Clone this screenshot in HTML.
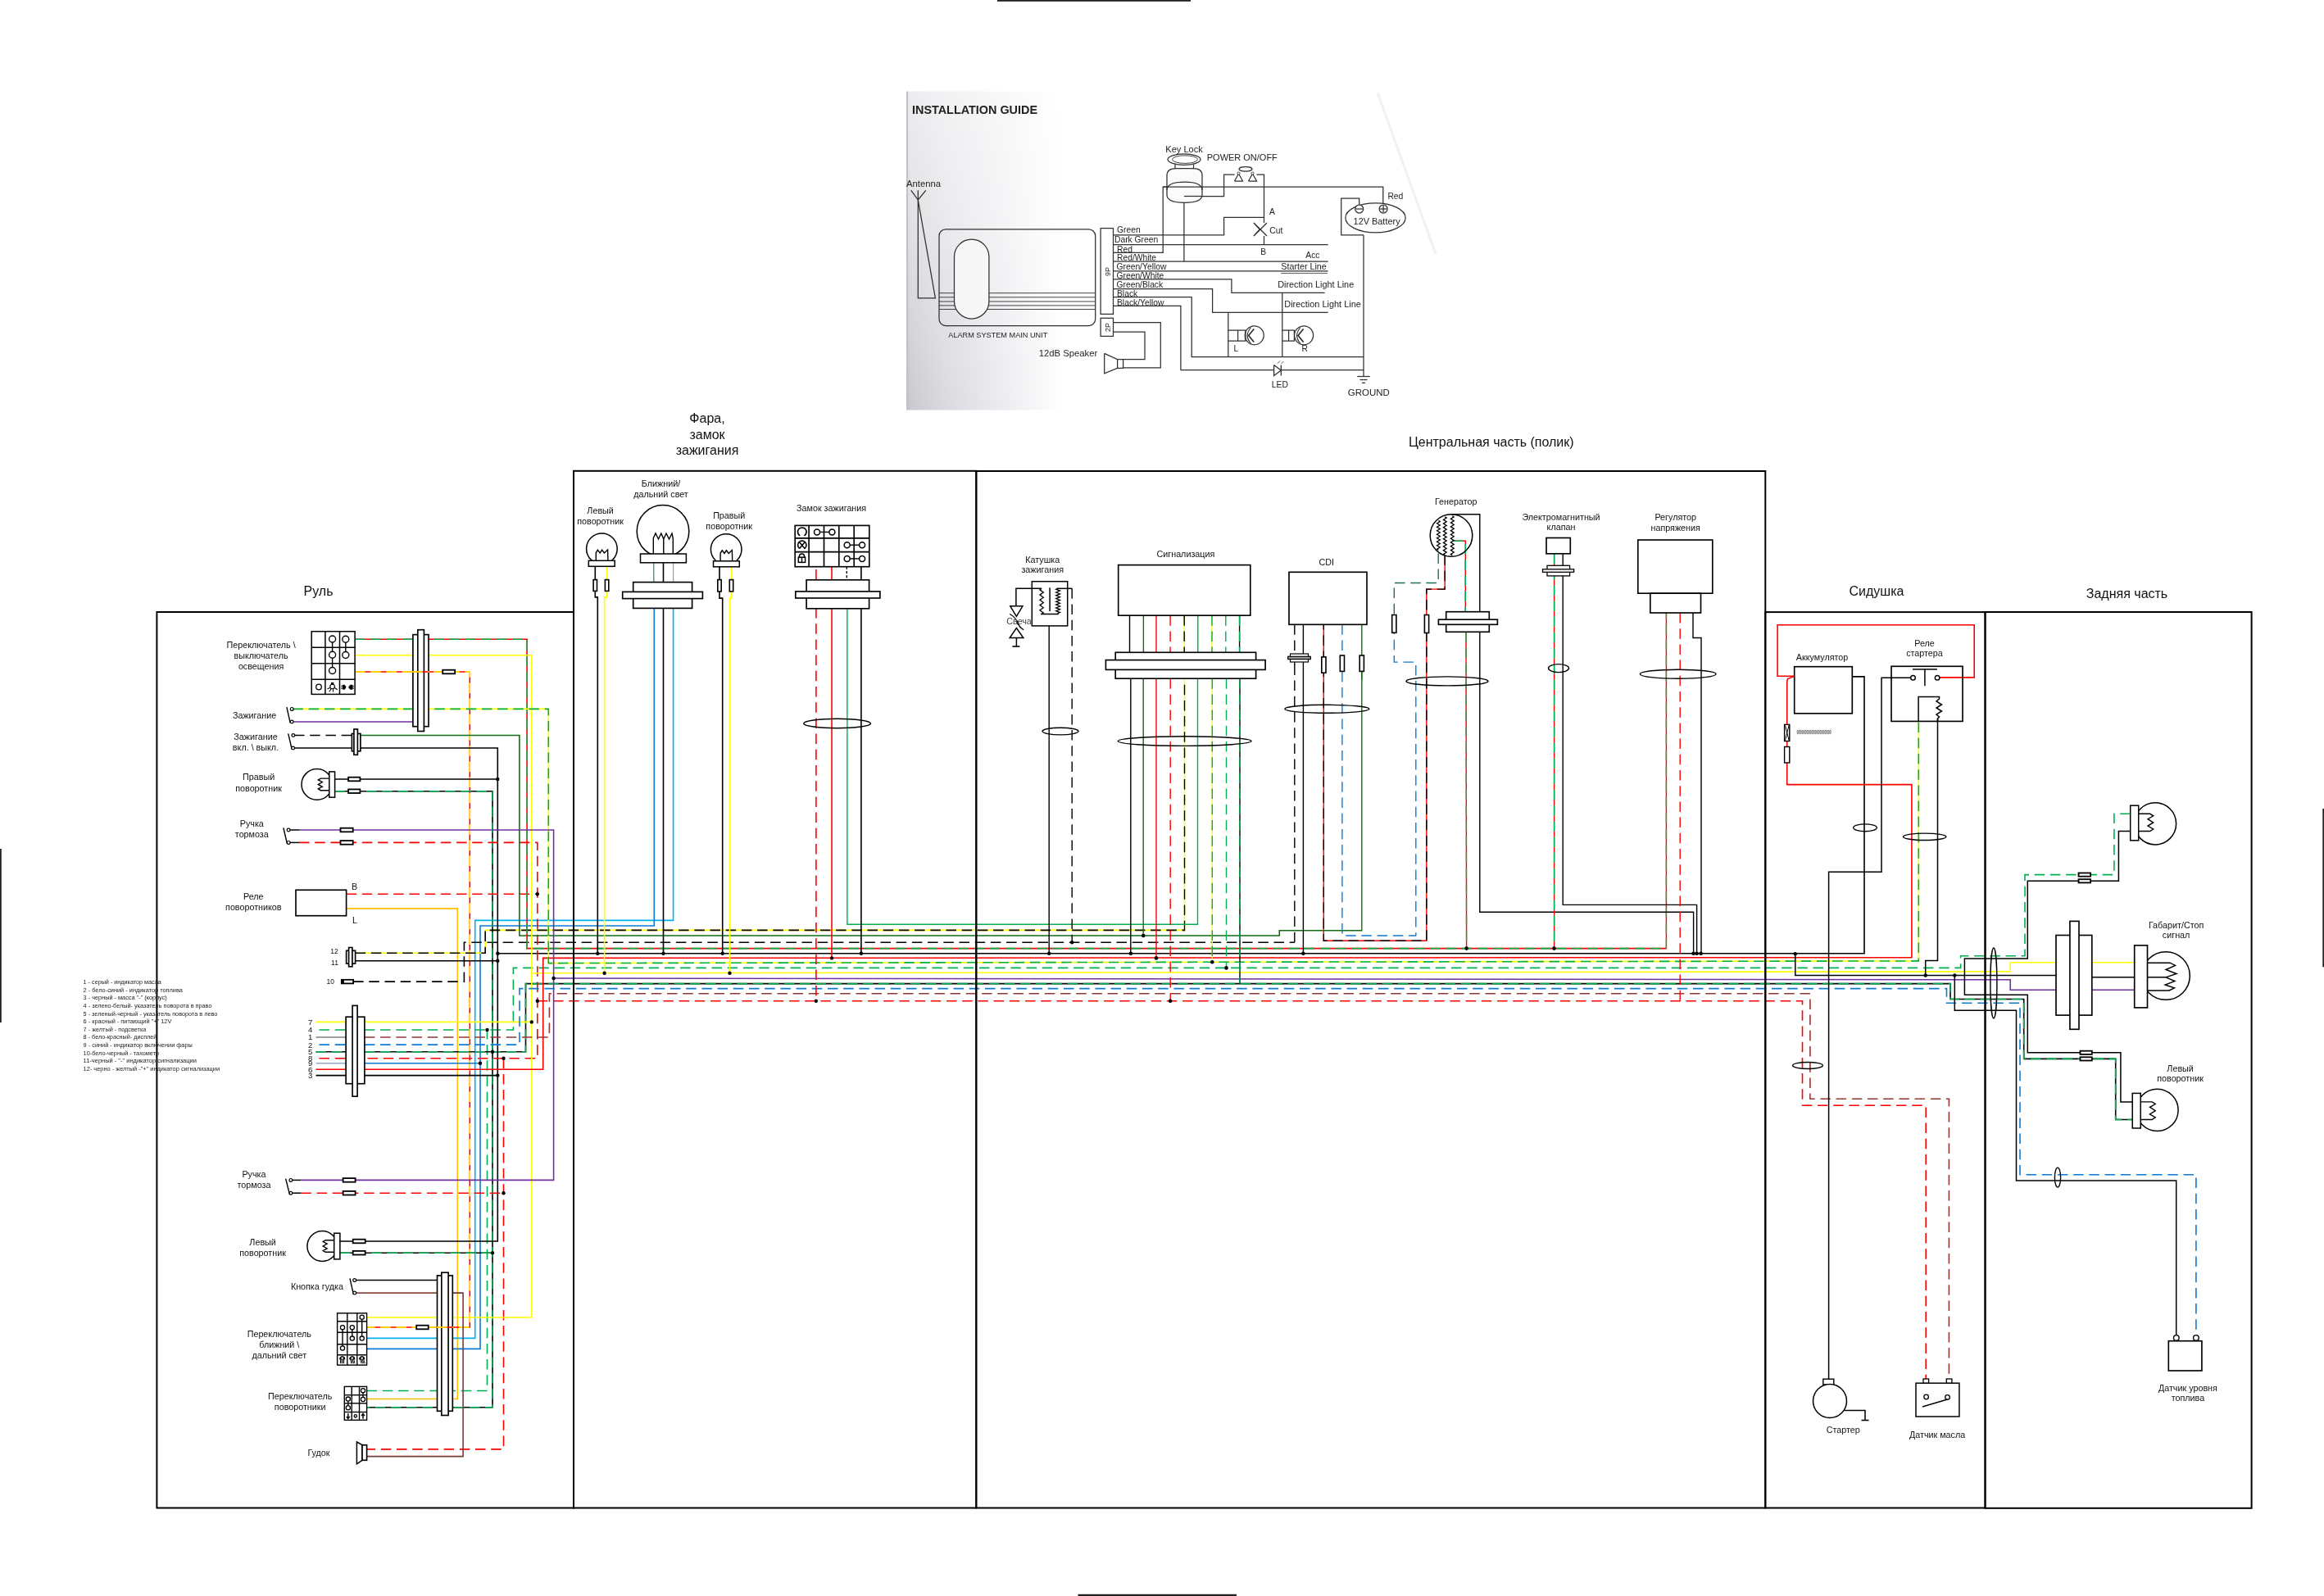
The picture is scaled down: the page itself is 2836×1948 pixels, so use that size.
<!DOCTYPE html>
<html><head><meta charset="utf-8"><title>Wiring</title>
<style>html,body{margin:0;padding:0;background:#fff;}svg{display:block;will-change:transform;}body{width:2836px;height:1948px;overflow:hidden;font-family:"Liberation Sans",sans-serif;}</style></head>
<body>
<svg width="2836" height="1948" viewBox="0 0 2836 1948" font-family="'Liberation Sans', sans-serif">
<defs>
<linearGradient id="pg" x1="0" y1="0" x2="1" y2="0">
<stop offset="0" stop-color="#bfbfc6"/><stop offset="0.03" stop-color="#cacad0"/><stop offset="0.25" stop-color="#d9d9df"/><stop offset="0.5" stop-color="#e6e6eb"/><stop offset="0.78" stop-color="#f4f4f7"/><stop offset="1" stop-color="#ffffff"/>
</linearGradient>
<linearGradient id="pg2" x1="0" y1="0" x2="0" y2="1">
<stop offset="0" stop-color="#ffffff" stop-opacity="0.66"/><stop offset="0.4" stop-color="#ffffff" stop-opacity="0.46"/><stop offset="0.75" stop-color="#ffffff" stop-opacity="0.2"/><stop offset="1" stop-color="#ffffff" stop-opacity="0"/>
</linearGradient>
<pattern id="hatch" width="2" height="2" patternUnits="userSpaceOnUse"><rect width="1" height="1" fill="#555"/><rect x="1" y="1" width="1" height="1" fill="#555"/></pattern>
</defs>
<rect x="1217" y="0" width="236" height="1.8" fill="#222"/>
<rect x="1315.5" y="1945.8" width="193.5" height="2.2" fill="#222"/>
<rect x="0" y="1036" width="1.8" height="212" fill="#222"/>
<rect x="2834.3" y="987" width="1.7" height="193.3" fill="#222"/>
<rect x="1106" y="111.5" width="190" height="389" fill="url(#pg)"/>
<rect x="1108" y="111" width="189" height="390" fill="url(#pg2)"/>
<polyline points="1681,113 1752,310" fill="none" stroke="#f1f1f1" stroke-width="3"/>
<text x="1113.0" y="138.6" font-size="15.00" text-anchor="start" font-weight="bold" fill="#222" textLength="153" lengthAdjust="spacingAndGlyphs">INSTALLATION GUIDE</text>
<text x="1106.0" y="227.5" font-size="10.50" text-anchor="start" font-weight="normal" fill="#222" textLength="42" lengthAdjust="spacingAndGlyphs">Antenna</text>
<polyline points="1111.8,232.3 1120.3,244.0 1129.8,232.3" fill="none" stroke="#303030" stroke-width="1.25"/>
<polyline points="1120.3,232.3 1120.3,363.9 1141.4,363.9 1120.3,244.0" fill="none" stroke="#303030" stroke-width="1.25"/>
<rect x="1146.0" y="279.9" width="190.7" height="117.6" fill="none" stroke="#303030" stroke-width="1.25" rx="8.0"/>
<polyline points="1146.0,357.7 1336.7,357.7" fill="none" stroke="#303030" stroke-width="0.90"/>
<polyline points="1146.0,362.8 1336.7,362.8" fill="none" stroke="#303030" stroke-width="0.90"/>
<polyline points="1146.0,368.0 1336.7,368.0" fill="none" stroke="#303030" stroke-width="0.90"/>
<polyline points="1146.0,372.9 1336.7,372.9" fill="none" stroke="#303030" stroke-width="0.90"/>
<polyline points="1146.0,377.5 1336.7,377.5" fill="none" stroke="#303030" stroke-width="0.90"/>
<rect x="1164.5" y="292.2" width="42.4" height="96.8" fill="#f7f7f7" stroke="#303030" stroke-width="1.25" rx="21.2"/>
<text x="1157.3" y="411.6" font-size="9.00" text-anchor="start" font-weight="normal" fill="#222" textLength="121" lengthAdjust="spacingAndGlyphs">ALARM SYSTEM MAIN UNIT</text>
<rect x="1343.1" y="278.6" width="15.4" height="104.8" fill="none" stroke="#303030" stroke-width="1.25"/>
<rect x="1343.1" y="388.3" width="15.4" height="22.1" fill="none" stroke="#303030" stroke-width="1.25"/>
<text transform="translate(1354.5,337) rotate(-90)" font-size="9" fill="#222">9P</text>
<text transform="translate(1354.5,405) rotate(-90)" font-size="9" fill="#222">2P</text>
<text x="1363.0" y="284.3" font-size="10.30" text-anchor="start" font-weight="normal" fill="#222" >Green</text>
<text x="1360.0" y="296.4" font-size="10.30" text-anchor="start" font-weight="normal" fill="#222" >Dark Green</text>
<text x="1363.0" y="308.0" font-size="10.30" text-anchor="start" font-weight="normal" fill="#222" >Red</text>
<text x="1363.0" y="317.5" font-size="10.30" text-anchor="start" font-weight="normal" fill="#222" >Red/White</text>
<text x="1362.5" y="329.0" font-size="10.30" text-anchor="start" font-weight="normal" fill="#222" >Green/Yellow</text>
<text x="1362.5" y="339.6" font-size="10.30" text-anchor="start" font-weight="normal" fill="#222" >Green/White</text>
<text x="1362.5" y="350.9" font-size="10.30" text-anchor="start" font-weight="normal" fill="#222" >Green/Black</text>
<text x="1363.0" y="361.9" font-size="10.30" text-anchor="start" font-weight="normal" fill="#222" >Black</text>
<text x="1363.0" y="372.7" font-size="10.30" text-anchor="start" font-weight="normal" fill="#222" >Black/Yellow</text>
<text x="1267.8" y="435.2" font-size="10.30" text-anchor="start" font-weight="normal" fill="#222" textLength="71.5" lengthAdjust="spacingAndGlyphs">12dB Speaker</text>
<polyline points="1347.7,431.4 1363.6,438.6 1363.6,449.4 1347.7,455.9 1347.7,431.4" fill="none" stroke="#303030" stroke-width="1.25"/>
<polyline points="1363.6,438.6 1370.6,438.6 1370.6,449.4 1363.6,449.4" fill="none" stroke="#303030" stroke-width="1.25"/>
<polyline points="1358.5,393.7 1416.3,393.7 1416.3,448.9 1370.6,448.9" fill="none" stroke="#303030" stroke-width="1.25"/>
<polyline points="1358.5,405.0 1397.0,405.0 1397.0,438.6 1370.6,438.6" fill="none" stroke="#303030" stroke-width="1.25"/>
<polyline points="1358.5,286.9 1493.6,286.9 1493.6,265.3 1542.5,265.3" fill="none" stroke="#303030" stroke-width="1.25"/>
<polyline points="1358.5,298.7 1620.6,298.7" fill="none" stroke="#303030" stroke-width="1.25"/>
<polyline points="1358.5,308.3 1419.2,308.3 1419.2,228.1 1687.8,228.1 1687.8,250.0" fill="none" stroke="#303030" stroke-width="1.25"/>
<polyline points="1358.5,319.2 1620.6,319.2" fill="none" stroke="#303030" stroke-width="1.25"/>
<polyline points="1444.9,319.2 1444.9,239.5 1493.6,239.5 1493.6,213.2 1506.5,213.2" fill="none" stroke="#303030" stroke-width="1.25"/>
<polyline points="1533.5,213.2 1542.5,213.2 1542.5,272.0" fill="none" stroke="#303030" stroke-width="1.25"/>
<polyline points="1542.5,288.0 1542.5,298.7" fill="none" stroke="#303030" stroke-width="1.25"/>
<polyline points="1358.5,330.9 1620.6,330.9" fill="none" stroke="#303030" stroke-width="1.25"/>
<polyline points="1563.0,333.6 1620.0,333.6" fill="none" stroke="#303030" stroke-width="0.80"/>
<polyline points="1358.5,340.8 1502.9,340.8 1502.9,357.3 1616.6,357.3" fill="none" stroke="#303030" stroke-width="1.25"/>
<polyline points="1358.5,352.6 1479.6,352.6 1479.6,381.4 1620.6,381.4" fill="none" stroke="#303030" stroke-width="1.25"/>
<polyline points="1358.5,362.5 1454.2,362.5 1454.2,435.6 1664.0,435.6" fill="none" stroke="#303030" stroke-width="1.25"/>
<polyline points="1358.5,373.4 1440.9,373.4 1440.9,451.7 1554.6,451.7" fill="none" stroke="#303030" stroke-width="1.25"/>
<polyline points="1563.3,451.7 1664.0,451.7" fill="none" stroke="#303030" stroke-width="1.25"/>
<ellipse cx="1445.0" cy="194.6" rx="20.0" ry="6.8" fill="none" stroke="#303030" stroke-width="1.25"/>
<ellipse cx="1446.0" cy="194.6" rx="15.5" ry="4.8" fill="none" stroke="#303030" stroke-width="0.90"/>
<polyline points="1434.0,200.5 1434.0,206.0" fill="none" stroke="#303030" stroke-width="1.25"/>
<polyline points="1456.5,200.5 1456.5,206.0" fill="none" stroke="#303030" stroke-width="1.25"/>
<path d="M1424 214 Q1424 205.5 1435 205.5 L1456 205.5 Q1467 205.5 1467 214 L1467 238 Q1467 247.3 1445.5 247.3 Q1424 247.3 1424 238 Z" fill="#fbfbfb" stroke="#303030" stroke-width="1.25" />
<path d="M1424 232 Q1424 222 1445.5 222 Q1467 222 1467 232" fill="none" stroke="#303030" stroke-width="1.25" />
<polyline points="1419.2,228.1 1467.0,228.1" fill="none" stroke="#303030" stroke-width="1.25"/>
<polyline points="1444.9,239.5 1467.0,239.5" fill="none" stroke="#303030" stroke-width="1.25"/>
<text x="1422.3" y="185.6" font-size="10.30" text-anchor="start" font-weight="normal" fill="#222" textLength="45.5" lengthAdjust="spacingAndGlyphs">Key Lock</text>
<text x="1472.8" y="195.8" font-size="10.30" text-anchor="start" font-weight="normal" fill="#222" textLength="86" lengthAdjust="spacingAndGlyphs">POWER ON/OFF</text>
<ellipse cx="1520.0" cy="206.3" rx="8.0" ry="2.8" fill="none" stroke="#303030" stroke-width="1.25"/>
<polyline points="1506.5,221.0 1511.5,212.0 1516.5,221.0 1506.5,221.0" fill="none" stroke="#303030" stroke-width="1.25"/>
<polyline points="1523.5,221.0 1528.5,212.0 1533.5,221.0 1523.5,221.0" fill="none" stroke="#303030" stroke-width="1.25"/>
<circle cx="1511.5" cy="211.5" r="1.60" fill="#fff" stroke="#303030" stroke-width="0.90"/>
<circle cx="1528.5" cy="211.5" r="1.60" fill="#fff" stroke="#303030" stroke-width="0.90"/>
<polyline points="1530.0,272.0 1546.0,288.0" fill="none" stroke="#303030" stroke-width="1.30"/>
<polyline points="1530.0,288.0 1546.0,272.0" fill="none" stroke="#303030" stroke-width="1.30"/>
<polyline points="1530.0,272.0 1537.0,280.0 1530.0,288.0" fill="none" stroke="#303030" stroke-width="1.10"/>
<text x="1552.4" y="262.0" font-size="10.30" text-anchor="middle" font-weight="normal" fill="#222" >A</text>
<text x="1549.3" y="284.5" font-size="10.30" text-anchor="start" font-weight="normal" fill="#222" >Cut</text>
<text x="1541.6" y="310.5" font-size="10.30" text-anchor="middle" font-weight="normal" fill="#222" >B</text>
<text x="1593.3" y="314.6" font-size="10.30" text-anchor="start" font-weight="normal" fill="#222" >Acc</text>
<text x="1563.3" y="329.3" font-size="10.30" text-anchor="start" font-weight="normal" fill="#222" textLength="55.5" lengthAdjust="spacingAndGlyphs">Starter Line</text>
<text x="1559.2" y="350.8" font-size="10.30" text-anchor="start" font-weight="normal" fill="#222" textLength="93" lengthAdjust="spacingAndGlyphs">Direction Light Line</text>
<text x="1567.3" y="374.8" font-size="10.30" text-anchor="start" font-weight="normal" fill="#222" textLength="93.5" lengthAdjust="spacingAndGlyphs">Direction Light Line</text>
<polyline points="1658.7,250.0 1658.7,242.0 1636.7,242.0 1636.7,286.9 1664.0,286.9" fill="none" stroke="#303030" stroke-width="1.25"/>
<ellipse cx="1678.5" cy="265.9" rx="36.6" ry="18.0" fill="#fdfdfd" stroke="#303030" stroke-width="1.25"/>
<circle cx="1658.7" cy="255.0" r="5.00" fill="#fff" stroke="#303030" stroke-width="1.25"/>
<circle cx="1688.1" cy="255.0" r="5.00" fill="#fff" stroke="#303030" stroke-width="1.25"/>
<polyline points="1654.5,255.0 1663.0,255.0" fill="none" stroke="#303030" stroke-width="1.25"/>
<polyline points="1684.0,255.0 1692.3,255.0" fill="none" stroke="#303030" stroke-width="1.25"/>
<polyline points="1688.1,251.0 1688.1,259.0" fill="none" stroke="#303030" stroke-width="1.25"/>
<text x="1651.6" y="274.3" font-size="10.30" text-anchor="start" font-weight="normal" fill="#222" textLength="57" lengthAdjust="spacingAndGlyphs">12V Battery</text>
<text x="1693.4" y="242.6" font-size="10.30" text-anchor="start" font-weight="normal" fill="#222" >Red</text>
<polyline points="1664.0,286.9 1664.0,459.5" fill="none" stroke="#303030" stroke-width="1.25"/>
<polyline points="1656.3,459.5 1671.7,459.5" fill="none" stroke="#303030" stroke-width="1.25"/>
<polyline points="1659.5,463.5 1668.5,463.5" fill="none" stroke="#303030" stroke-width="1.25"/>
<polyline points="1662.0,467.3 1666.0,467.3" fill="none" stroke="#303030" stroke-width="1.25"/>
<text x="1644.8" y="483.4" font-size="10.30" text-anchor="start" font-weight="normal" fill="#222" textLength="51" lengthAdjust="spacingAndGlyphs">GROUND</text>
<polyline points="1498.8,381.4 1498.8,435.6" fill="none" stroke="#303030" stroke-width="1.25"/>
<polyline points="1498.8,403.1 1519.9,403.1 1519.9,416.1 1498.8,416.1" fill="none" stroke="#303030" stroke-width="1.25"/>
<polyline points="1510.6,403.1 1510.6,416.1" fill="none" stroke="#303030" stroke-width="1.25"/>
<circle cx="1530.7" cy="409.3" r="11.50" fill="none" stroke="#303030" stroke-width="1.25"/>
<polyline points="1530.2,401.5 1523.7,409.5 1530.2,417.5" fill="none" stroke="#303030" stroke-width="1.70"/>
<path d="M1526.7 399.5 Q1517.7 409.5 1526.7 419.5" fill="none" stroke="#303030" stroke-width="1.10" />
<text x="1508.4" y="429.0" font-size="10.30" text-anchor="middle" font-weight="normal" fill="#222" >L</text>
<polyline points="1564.8,357.3 1564.8,435.6" fill="none" stroke="#303030" stroke-width="1.25"/>
<polyline points="1564.8,403.1 1579.4,403.1 1579.4,416.1 1564.8,416.1" fill="none" stroke="#303030" stroke-width="1.25"/>
<polyline points="1572.6,403.1 1572.6,416.1" fill="none" stroke="#303030" stroke-width="1.25"/>
<circle cx="1591.1" cy="409.3" r="11.50" fill="none" stroke="#303030" stroke-width="1.25"/>
<polyline points="1590.6,401.5 1584.1,409.5 1590.6,417.5" fill="none" stroke="#303030" stroke-width="1.70"/>
<path d="M1587.1 399.5 Q1578.1 409.5 1587.1 419.5" fill="none" stroke="#303030" stroke-width="1.10" />
<text x="1592.1" y="429.0" font-size="10.30" text-anchor="middle" font-weight="normal" fill="#222" >R</text>
<polyline points="1554.6,445.5 1554.6,458.6 1563.3,452.0 1554.6,445.5" fill="none" stroke="#303030" stroke-width="1.25"/>
<polyline points="1563.3,445.5 1563.3,458.6" fill="none" stroke="#303030" stroke-width="1.25"/>
<polyline points="1559.0,443.5 1562.0,440.5" fill="none" stroke="#303030" stroke-width="0.80"/>
<polyline points="1563.5,444.0 1566.5,441.0" fill="none" stroke="#303030" stroke-width="0.80"/>
<text x="1551.8" y="472.6" font-size="10.30" text-anchor="start" font-weight="normal" fill="#222" >LED</text>
<polyline points="422.6,1108.9 558.3,1108.9 558.3,1707.5 552.3,1707.5" fill="none" stroke="#ffc000" stroke-width="1.60"/>
<polyline points="447.6,1707.5 533.5,1707.5" fill="none" stroke="#ffc000" stroke-width="1.60"/>
<polyline points="433.1,820.0 573.3,820.0 573.3,1620.0 447.6,1620.0" fill="none" stroke="#ff0000" stroke-width="1.60"/>
<polyline points="433.1,820.0 573.3,820.0 573.3,1620.0 447.6,1620.0" fill="none" stroke="#ffff00" stroke-width="1.60" stroke-dasharray="12.5 6.7"/>
<polyline points="447.6,1633.4 579.7,1633.4 579.7,1123.4 821.6,1123.4 821.6,742.4" fill="none" stroke="#00b0f0" stroke-width="1.60"/>
<polyline points="447.6,1646.4 586.0,1646.4 586.0,1130.0 798.3,1130.0 798.3,742.4" fill="none" stroke="#0f7ad4" stroke-width="1.60"/>
<polyline points="444.9,1297.8 586.0,1297.8" fill="none" stroke="#0f7ad4" stroke-width="1.60"/>
<polyline points="433.6,1163.3 592.2,1163.3 592.2,1135.4 1445.5,1135.4" fill="none" stroke="#ffff00" stroke-width="1.60"/>
<polyline points="433.6,1163.3 592.2,1163.3 592.2,1135.4 1445.5,1135.4" fill="none" stroke="#000000" stroke-width="1.60" stroke-dasharray="12.5 6.7"/>
<polyline points="1445.5,1136.2 1445.5,828.2" fill="none" stroke="#ffff00" stroke-width="1.40"/>
<polyline points="1445.5,1136.2 1445.5,828.2" fill="none" stroke="#000000" stroke-width="1.40" stroke-dasharray="12.5 6.7"/>
<polyline points="431.1,1198.1 566.4,1198.1 566.4,1150.3 1579.8,1150.3" fill="none" stroke="#000000" stroke-width="1.60" stroke-dasharray="12.5 6.7"/>
<polyline points="1579.8,1150.3 1579.8,808.0" fill="none" stroke="#000000" stroke-width="1.40" stroke-dasharray="12.5 6.7"/>
<polyline points="447.6,1697.5 594.5,1697.5 594.5,1257.0" fill="none" stroke="#00b050" stroke-width="1.60" stroke-dasharray="12.5 6.7"/>
<polyline points="444.9,1257.0 626.4,1257.0 626.4,1181.4 2392.6,1181.4 2392.6,1166.8 2471.0,1166.8 2471.0,1067.6 2536.5,1067.6" fill="none" stroke="#00b050" stroke-width="1.60" stroke-dasharray="12.5 6.7"/>
<polyline points="2599.7,993.2 2579.9,993.2 2579.9,1067.6 2551.1,1067.6" fill="none" stroke="#00b050" stroke-width="1.60" stroke-dasharray="12.5 6.7"/>
<polyline points="408.6,965.7 601.0,965.7 601.0,1717.8 447.6,1717.8" fill="none" stroke="#000000" stroke-width="1.60"/>
<polyline points="408.6,965.7 601.0,965.7 601.0,1717.8 447.6,1717.8" fill="none" stroke="#00b050" stroke-width="1.60" stroke-dasharray="12.5 6.7"/>
<polyline points="414.9,1529.2 601.0,1529.2" fill="none" stroke="#000000" stroke-width="1.60"/>
<polyline points="414.9,1529.2 601.0,1529.2" fill="none" stroke="#00b050" stroke-width="1.60" stroke-dasharray="12.5 6.7"/>
<polyline points="444.9,1283.7 641.5,1283.7 641.5,1200.6 2380.0,1200.6 2380.0,1219.5 2469.7,1219.5 2469.7,1292.4 2581.7,1292.4 2581.7,1366.5 2602.2,1366.5" fill="none" stroke="#000000" stroke-width="1.60"/>
<polyline points="444.9,1283.7 641.5,1283.7 641.5,1200.6 2380.0,1200.6 2380.0,1219.5 2469.7,1219.5 2469.7,1292.4 2581.7,1292.4 2581.7,1366.5 2602.2,1366.5" fill="none" stroke="#00b050" stroke-width="1.60" stroke-dasharray="12.5 6.7"/>
<polyline points="358.5,913.0 607.3,913.0 607.3,1515.0 414.9,1515.0" fill="none" stroke="#000000" stroke-width="1.60"/>
<polyline points="408.6,951.0 607.3,951.0" fill="none" stroke="#000000" stroke-width="1.60"/>
<polyline points="433.6,1172.8 607.3,1172.8" fill="none" stroke="#000000" stroke-width="1.60"/>
<polyline points="444.9,1312.6 607.3,1312.6" fill="none" stroke="#000000" stroke-width="1.60"/>
<polyline points="607.3,1163.7 2275.0,1163.7 2275.0,825.9 2260.3,825.9" fill="none" stroke="#000000" stroke-width="1.60"/>
<polyline points="365.0,1028.4 655.8,1028.4 655.8,1291.7 444.9,1291.7" fill="none" stroke="#ff0000" stroke-width="1.60" stroke-dasharray="12.5 6.7"/>
<polyline points="422.6,1091.2 655.8,1091.2" fill="none" stroke="#ff0000" stroke-width="1.60" stroke-dasharray="12.5 6.7"/>
<polyline points="614.5,1291.7 614.5,1768.9 447.6,1768.9" fill="none" stroke="#ff0000" stroke-width="1.60" stroke-dasharray="12.5 6.7"/>
<polyline points="367.3,1456.2 614.5,1456.2" fill="none" stroke="#ff0000" stroke-width="1.60" stroke-dasharray="12.5 6.7"/>
<polyline points="655.8,1221.8 2199.5,1221.8 2199.5,1349.2 2350.2,1349.2 2350.2,1683.0" fill="none" stroke="#ff0000" stroke-width="1.60" stroke-dasharray="12.5 6.7"/>
<polyline points="439.9,897.5 633.9,897.5 633.9,1142.0 1561.3,1142.0 1561.3,1135.7 1661.8,1135.7" fill="none" stroke="#0f6f12" stroke-width="1.60"/>
<polyline points="1661.8,1136.4 1661.8,819.4" fill="none" stroke="#0f6f12" stroke-width="1.40"/>
<polyline points="433.1,780.2 643.1,780.2 643.1,1157.6 2033.4,1157.6" fill="none" stroke="#ff0000" stroke-width="1.60"/>
<polyline points="433.1,780.2 643.1,780.2 643.1,1157.6 2033.4,1157.6" fill="none" stroke="#00b050" stroke-width="1.60" stroke-dasharray="12.5 6.7"/>
<polyline points="2033.4,1158.3 2033.4,748.0" fill="none" stroke="#ff0000" stroke-width="1.40"/>
<polyline points="2033.4,1158.3 2033.4,748.0" fill="none" stroke="#00b050" stroke-width="1.40" stroke-dasharray="12.5 6.7"/>
<polyline points="433.1,799.8 648.8,799.8 648.8,1608.0 447.6,1608.0" fill="none" stroke="#ffff00" stroke-width="1.60"/>
<polyline points="444.9,1247.4 648.8,1247.4" fill="none" stroke="#ffff00" stroke-width="1.60"/>
<polyline points="648.8,1187.8 2453.2,1185.8 2453.2,1174.7 2509.0,1174.7" fill="none" stroke="#ffff00" stroke-width="1.60"/>
<polyline points="444.9,1305.2 662.7,1305.2 662.7,1169.4 2332.9,1168.6 2332.9,957.6 2180.7,957.6 2180.7,931.0" fill="none" stroke="#ff0000" stroke-width="1.60"/>
<polyline points="357.5,865.4 669.3,865.4 669.3,1175.6 2341.3,1172.9 2341.3,880.4" fill="none" stroke="#ffff00" stroke-width="1.60"/>
<polyline points="357.5,865.4 669.3,865.4 669.3,1175.6 2341.3,1172.9 2341.3,880.4" fill="none" stroke="#00b050" stroke-width="1.60" stroke-dasharray="12.5 6.7"/>
<polyline points="365.0,1013.0 675.6,1013.0 675.6,1440.4 367.3,1440.4" fill="none" stroke="#7030a0" stroke-width="1.60"/>
<polyline points="675.6,1194.0 2453.2,1195.8 2453.2,1208.2 2509.0,1208.2" fill="none" stroke="#7030a0" stroke-width="1.60"/>
<polyline points="357.5,881.0 503.8,881.0" fill="none" stroke="#7030a0" stroke-width="1.60"/>
<polyline points="444.9,1275.1 634.0,1275.1 634.0,1206.6 2375.5,1206.6 2375.5,1224.2 2465.0,1224.2 2465.0,1433.7 2679.9,1433.7 2679.9,1629.6" fill="none" stroke="#0f7ad4" stroke-width="1.60" stroke-dasharray="12.5 6.7"/>
<polyline points="444.9,1266.0 670.4,1266.0 670.4,1212.7 2208.9,1212.7 2208.9,1341.3 2378.4,1341.3 2378.4,1683.0" fill="none" stroke="#953735" stroke-width="1.60" stroke-dasharray="12.5 6.7"/>
<polyline points="359.0,897.5 429.4,897.5" fill="none" stroke="#000000" stroke-width="1.60" stroke-dasharray="12.5 6.7"/>
<polyline points="434.0,1562.5 533.5,1562.5" fill="none" stroke="#000000" stroke-width="1.60"/>
<polyline points="434.0,1578.1 533.5,1578.1" fill="none" stroke="#8a4a3c" stroke-width="1.60"/>
<polyline points="552.3,1578.1 565.1,1578.1 565.1,1777.6 447.6,1777.6" fill="none" stroke="#7a3a34" stroke-width="1.60"/>
<polyline points="353.5,1013.0 365.0,1013.0" fill="none" stroke="#000000" stroke-width="1.50"/>
<polyline points="353.5,1028.4 365.0,1028.4" fill="none" stroke="#000000" stroke-width="1.50"/>
<polyline points="356.0,1440.4 367.3,1440.4" fill="none" stroke="#000000" stroke-width="1.50"/>
<polyline points="356.0,1456.2 367.3,1456.2" fill="none" stroke="#000000" stroke-width="1.50"/>
<polyline points="385.5,1247.4 422.1,1247.4" fill="none" stroke="#ffff00" stroke-width="1.60"/>
<polyline points="389.5,1257.0 422.1,1257.0" fill="none" stroke="#00b050" stroke-width="1.60" stroke-dasharray="12.5 6.7"/>
<polyline points="385.5,1266.0 422.1,1266.0" fill="none" stroke="#7f7f7f" stroke-width="1.60"/>
<polyline points="389.5,1275.1 422.1,1275.1" fill="none" stroke="#0f7ad4" stroke-width="1.60" stroke-dasharray="12.5 6.7"/>
<polyline points="385.5,1283.7 422.1,1283.7" fill="none" stroke="#000000" stroke-width="1.60"/>
<polyline points="385.5,1283.7 422.1,1283.7" fill="none" stroke="#00b050" stroke-width="1.60" stroke-dasharray="12.5 6.7"/>
<polyline points="389.5,1291.7 422.1,1291.7" fill="none" stroke="#ff0000" stroke-width="1.60" stroke-dasharray="12.5 6.7"/>
<polyline points="385.5,1297.8 422.1,1297.8" fill="none" stroke="#8fa9cf" stroke-width="1.60"/>
<polyline points="385.5,1305.2 422.1,1305.2" fill="none" stroke="#ff0000" stroke-width="1.60"/>
<polyline points="385.5,1312.6 422.1,1312.6" fill="none" stroke="#000000" stroke-width="1.60"/>
<circle cx="607.3" cy="951.0" r="2.2" fill="#000"/>
<circle cx="607.3" cy="1163.7" r="2.2" fill="#000"/>
<circle cx="607.3" cy="1172.8" r="2.2" fill="#000"/>
<circle cx="607.3" cy="1312.6" r="2.2" fill="#000"/>
<circle cx="601.0" cy="1283.7" r="2.2" fill="#000"/>
<circle cx="601.0" cy="1529.2" r="2.2" fill="#000"/>
<circle cx="594.5" cy="1257.0" r="2.2" fill="#000"/>
<circle cx="586.0" cy="1297.8" r="2.2" fill="#000"/>
<circle cx="614.5" cy="1291.7" r="2.2" fill="#000"/>
<circle cx="614.5" cy="1456.2" r="2.2" fill="#000"/>
<circle cx="655.8" cy="1091.2" r="2.2" fill="#000"/>
<circle cx="655.8" cy="1221.8" r="2.2" fill="#000"/>
<circle cx="648.8" cy="1247.4" r="2.2" fill="#000"/>
<circle cx="675.6" cy="1194.0" r="2.2" fill="#000"/>
<rect x="380.2" y="770.7" width="52.9" height="76.7" fill="#fff" stroke="#000" stroke-width="1.50"/>
<polyline points="396.9,770.7 396.9,847.4" fill="none" stroke="#000000" stroke-width="1.50"/>
<polyline points="414.5,770.7 414.5,847.4" fill="none" stroke="#000000" stroke-width="1.50"/>
<polyline points="380.2,790.3 433.1,790.3" fill="none" stroke="#000000" stroke-width="1.50"/>
<polyline points="380.2,809.7 433.1,809.7" fill="none" stroke="#000000" stroke-width="1.50"/>
<polyline points="380.2,829.2 433.1,829.2" fill="none" stroke="#000000" stroke-width="1.50"/>
<polyline points="405.6,784.0 405.6,795.3" fill="none" stroke="#000000" stroke-width="1.40"/>
<polyline points="405.6,803.3 405.6,814.5" fill="none" stroke="#000000" stroke-width="1.40"/>
<polyline points="421.8,784.2 421.8,795.5" fill="none" stroke="#000000" stroke-width="1.40"/>
<circle cx="405.6" cy="780.0" r="4.00" fill="#fff" stroke="#000" stroke-width="1.40"/>
<circle cx="421.8" cy="780.2" r="4.00" fill="#fff" stroke="#000" stroke-width="1.40"/>
<circle cx="405.6" cy="799.3" r="4.00" fill="#fff" stroke="#000" stroke-width="1.40"/>
<circle cx="421.8" cy="799.5" r="4.00" fill="#fff" stroke="#000" stroke-width="1.40"/>
<circle cx="405.6" cy="818.5" r="4.00" fill="#fff" stroke="#000" stroke-width="1.40"/>
<circle cx="389.0" cy="838.5" r="3.30" fill="#fff" stroke="#000" stroke-width="1.30"/>
<circle cx="405.6" cy="838.0" r="2.80" fill="#fff" stroke="#000" stroke-width="1.10"/>
<rect x="404.3" y="833.3" width="2.6" height="1.7" fill="#000" stroke="#000" stroke-width="0.80"/>
<polyline points="402.8,839.5 399.5,840.8" fill="none" stroke="#000000" stroke-width="1.10"/>
<polyline points="408.4,839.5 411.7,841.8" fill="none" stroke="#000000" stroke-width="1.10"/>
<polyline points="404.0,841.0 401.8,844.2" fill="none" stroke="#000000" stroke-width="1.10"/>
<polyline points="406.5,841.2 406.5,844.6" fill="none" stroke="#000000" stroke-width="1.10"/>
<path d="M418.5 836.2 L420.5 836.2 Q423.5 838.7 420.5 841.2 L418.5 841.2 Z" fill="#000" stroke="#000" stroke-width="0.90" />
<path d="M430 836.2 L427.5 836.2 Q424 838.7 427.5 841.2 L430 841.2 Z" fill="#000" stroke="#000" stroke-width="0.90" />
<polyline points="416.2,837.0 418.5,837.0" fill="none" stroke="#000000" stroke-width="0.80"/>
<polyline points="430.0,837.0 431.8,837.0" fill="none" stroke="#000000" stroke-width="0.80"/>
<polyline points="416.2,838.7 418.5,838.7" fill="none" stroke="#000000" stroke-width="0.80"/>
<polyline points="430.0,838.7 431.8,838.7" fill="none" stroke="#000000" stroke-width="0.80"/>
<polyline points="416.2,840.4 418.5,840.4" fill="none" stroke="#000000" stroke-width="0.80"/>
<polyline points="430.0,840.4 431.8,840.4" fill="none" stroke="#000000" stroke-width="0.80"/>
<rect x="503.9" y="774.6" width="19.1" height="112.1" fill="#fff" stroke="#000" stroke-width="1.65"/>
<rect x="509.8" y="768.7" width="7.6" height="123.8" fill="#fff" stroke="#000" stroke-width="1.65"/>
<polyline points="503.0,820.0 524.0,820.0" fill="none" stroke="#ff0000" stroke-width="1.60"/>
<polyline points="503.0,820.0 524.0,820.0" fill="none" stroke="#ffff00" stroke-width="1.60" stroke-dasharray="12.5 6.7"/>
<rect x="540.2" y="817.7" width="15.0" height="4.6" fill="#fff" stroke="#000" stroke-width="1.80"/>
<polyline points="349.9,863.2 354.2,882.4" fill="none" stroke="#000000" stroke-width="1.40"/>
<circle cx="356.2" cy="865.4" r="1.90" fill="#fff" stroke="#000" stroke-width="1.20"/>
<circle cx="356.2" cy="881.0" r="1.90" fill="#fff" stroke="#000" stroke-width="1.20"/>
<polyline points="351.7,895.3 356.2,914.5" fill="none" stroke="#000000" stroke-width="1.40"/>
<circle cx="357.9" cy="897.5" r="1.90" fill="#fff" stroke="#000" stroke-width="1.20"/>
<circle cx="357.6" cy="913.0" r="1.90" fill="#fff" stroke="#000" stroke-width="1.20"/>
<rect x="429.4" y="895.5" width="10.5" height="21.3" fill="#fff" stroke="#000" stroke-width="1.65"/>
<rect x="431.9" y="890.0" width="4.5" height="31.3" fill="#fff" stroke="#000" stroke-width="1.65"/>
<circle cx="386.8" cy="957.4" r="18.80" fill="#fff" stroke="#000" stroke-width="1.50"/>
<rect x="401.8" y="941.9" width="6.8" height="31.3" fill="#fff" stroke="#000" stroke-width="1.50"/>
<path d="M401.8 950.1 L391.3 950.1 L388.3 951.9 L393.3 954.5 L388.3 957.4 L393.3 960.3 L388.3 962.9 L391.3 964.7 L401.8 964.7" fill="none" stroke="#000" stroke-width="1.40" />
<rect x="425.1" y="948.7" width="14.3" height="4.6" fill="#fff" stroke="#000" stroke-width="1.80"/>
<rect x="425.1" y="963.4" width="14.3" height="4.6" fill="#fff" stroke="#000" stroke-width="1.80"/>
<polyline points="345.9,1010.5 350.4,1029.6" fill="none" stroke="#000000" stroke-width="1.40"/>
<circle cx="352.1" cy="1013.0" r="1.90" fill="#fff" stroke="#000" stroke-width="1.20"/>
<circle cx="352.1" cy="1028.4" r="1.90" fill="#fff" stroke="#000" stroke-width="1.20"/>
<rect x="415.5" y="1010.7" width="15.2" height="4.6" fill="#fff" stroke="#000" stroke-width="1.80"/>
<rect x="415.5" y="1026.1" width="15.2" height="4.6" fill="#fff" stroke="#000" stroke-width="1.80"/>
<rect x="361.0" y="1086.3" width="61.6" height="31.4" fill="#fff" stroke="#000" stroke-width="1.65"/>
<rect x="422.6" y="1160.3" width="11.0" height="15.8" fill="#fff" stroke="#000" stroke-width="1.65"/>
<rect x="425.6" y="1156.5" width="4.3" height="23.3" fill="#fff" stroke="#000" stroke-width="1.65"/>
<rect x="416.8" y="1195.8" width="14.3" height="4.6" fill="#fff" stroke="#000" stroke-width="1.80"/>
<rect x="416.8" y="1195.8" width="2.5" height="4.6" fill="#000" stroke="#000" stroke-width="1.00"/>
<rect x="422.1" y="1241.2" width="22.8" height="81.5" fill="#fff" stroke="#000" stroke-width="1.65"/>
<rect x="430.1" y="1227.4" width="6.0" height="110.8" fill="#fff" stroke="#000" stroke-width="1.65"/>
<polyline points="348.6,1438.7 353.5,1457.8" fill="none" stroke="#000000" stroke-width="1.40"/>
<circle cx="354.9" cy="1440.4" r="1.90" fill="#fff" stroke="#000" stroke-width="1.20"/>
<circle cx="354.9" cy="1456.2" r="1.90" fill="#fff" stroke="#000" stroke-width="1.20"/>
<rect x="418.6" y="1438.1" width="15.0" height="4.6" fill="#fff" stroke="#000" stroke-width="1.80"/>
<rect x="418.6" y="1453.9" width="15.0" height="4.6" fill="#fff" stroke="#000" stroke-width="1.80"/>
<circle cx="393.3" cy="1521.0" r="18.40" fill="#fff" stroke="#000" stroke-width="1.50"/>
<rect x="407.7" y="1505.2" width="7.2" height="31.7" fill="#fff" stroke="#000" stroke-width="1.50"/>
<path d="M407.7 1513.7 L397.2 1513.7 L394.2 1515.5 L399.2 1518.1 L394.2 1521.0 L399.2 1523.9 L394.2 1526.5 L397.2 1528.3 L407.7 1528.3" fill="none" stroke="#000" stroke-width="1.40" />
<rect x="430.7" y="1512.7" width="15.0" height="4.6" fill="#fff" stroke="#000" stroke-width="1.80"/>
<rect x="430.7" y="1526.9" width="15.0" height="4.6" fill="#fff" stroke="#000" stroke-width="1.80"/>
<polyline points="427.0,1560.3 431.3,1579.5" fill="none" stroke="#000000" stroke-width="1.40"/>
<circle cx="432.7" cy="1562.5" r="1.90" fill="#fff" stroke="#000" stroke-width="1.20"/>
<circle cx="432.7" cy="1578.1" r="1.90" fill="#fff" stroke="#000" stroke-width="1.20"/>
<rect x="533.5" y="1556.9" width="18.8" height="165.4" fill="#fff" stroke="#000" stroke-width="1.65"/>
<rect x="538.8" y="1553.2" width="8.3" height="174.3" fill="#fff" stroke="#000" stroke-width="1.65"/>
<rect x="411.6" y="1602.8" width="36.0" height="63.3" fill="#fff" stroke="#000" stroke-width="1.40"/>
<polyline points="423.8,1602.8 423.8,1666.1" fill="none" stroke="#000000" stroke-width="1.40"/>
<polyline points="435.8,1602.8 435.8,1666.1" fill="none" stroke="#000000" stroke-width="1.40"/>
<polyline points="411.6,1612.7 447.6,1612.7" fill="none" stroke="#000000" stroke-width="1.40"/>
<polyline points="411.6,1626.2 447.6,1626.2" fill="none" stroke="#000000" stroke-width="1.40"/>
<polyline points="411.6,1640.7 447.6,1640.7" fill="none" stroke="#000000" stroke-width="1.40"/>
<polyline points="411.6,1653.7 447.6,1653.7" fill="none" stroke="#000000" stroke-width="1.40"/>
<polyline points="441.7,1610.4 441.7,1631.0" fill="none" stroke="#000000" stroke-width="1.40"/>
<polyline points="418.0,1622.9 418.0,1642.9" fill="none" stroke="#000000" stroke-width="1.40"/>
<polyline points="429.8,1622.9 429.8,1631.0" fill="none" stroke="#000000" stroke-width="1.40"/>
<circle cx="441.7" cy="1607.8" r="2.60" fill="#fff" stroke="#000" stroke-width="1.30"/>
<circle cx="418.0" cy="1620.3" r="2.60" fill="#fff" stroke="#000" stroke-width="1.30"/>
<circle cx="429.8" cy="1620.3" r="2.60" fill="#fff" stroke="#000" stroke-width="1.30"/>
<circle cx="429.8" cy="1633.6" r="2.60" fill="#fff" stroke="#000" stroke-width="1.30"/>
<circle cx="441.7" cy="1633.6" r="2.60" fill="#fff" stroke="#000" stroke-width="1.30"/>
<circle cx="418.0" cy="1645.5" r="2.60" fill="#fff" stroke="#000" stroke-width="1.30"/>
<path d="M414.5 1659 A3.2 3.4 0 1 1 420.9 1659 Z" fill="#000" stroke="#000" stroke-width="1.00" />
<circle cx="417.7" cy="1657.6" r="1.20" fill="#fff" stroke="#fff" stroke-width="0.10"/>
<polyline points="415.5,1659.3 415.5,1664.2" fill="none" stroke="#000000" stroke-width="0.90"/>
<polyline points="416.9,1659.3 416.9,1664.2" fill="none" stroke="#000000" stroke-width="0.90"/>
<polyline points="418.3,1659.3 418.3,1664.2" fill="none" stroke="#000000" stroke-width="0.90"/>
<polyline points="419.7,1659.3 419.7,1664.2" fill="none" stroke="#000000" stroke-width="0.90"/>
<path d="M426.6 1659 A3.2 3.4 0 1 1 433.0 1659 Z" fill="#000" stroke="#000" stroke-width="1.00" />
<circle cx="429.8" cy="1657.6" r="1.20" fill="#fff" stroke="#fff" stroke-width="0.10"/>
<polyline points="427.6,1659.3 428.8,1664.2" fill="none" stroke="#000000" stroke-width="0.90"/>
<polyline points="429.0,1659.3 430.2,1664.2" fill="none" stroke="#000000" stroke-width="0.90"/>
<polyline points="430.4,1659.3 431.6,1664.2" fill="none" stroke="#000000" stroke-width="0.90"/>
<polyline points="431.8,1659.3 433.0,1664.2" fill="none" stroke="#000000" stroke-width="0.90"/>
<path d="M438.5 1659 A3.2 3.4 0 1 1 444.9 1659 Z" fill="#000" stroke="#000" stroke-width="1.00" />
<circle cx="441.7" cy="1657.6" r="1.20" fill="#fff" stroke="#fff" stroke-width="0.10"/>
<polyline points="439.5,1659.3 441.1,1664.2" fill="none" stroke="#000000" stroke-width="0.90"/>
<polyline points="440.9,1659.3 442.5,1664.2" fill="none" stroke="#000000" stroke-width="0.90"/>
<polyline points="442.3,1659.3 443.9,1664.2" fill="none" stroke="#000000" stroke-width="0.90"/>
<polyline points="443.7,1659.3 445.3,1664.2" fill="none" stroke="#000000" stroke-width="0.90"/>
<polyline points="533.0,1620.0 553.0,1620.0" fill="none" stroke="#ff0000" stroke-width="1.60"/>
<polyline points="533.0,1620.0 553.0,1620.0" fill="none" stroke="#ffff00" stroke-width="1.60" stroke-dasharray="12.5 6.7"/>
<rect x="508.2" y="1617.7" width="14.5" height="4.6" fill="#fff" stroke="#000" stroke-width="1.80"/>
<rect x="420.3" y="1692.4" width="27.3" height="40.9" fill="#fff" stroke="#000" stroke-width="1.40"/>
<polyline points="429.2,1692.4 429.2,1733.3" fill="none" stroke="#000000" stroke-width="1.40"/>
<polyline points="438.5,1692.4 438.5,1733.3" fill="none" stroke="#000000" stroke-width="1.40"/>
<polyline points="420.3,1702.7 447.6,1702.7" fill="none" stroke="#000000" stroke-width="1.40"/>
<polyline points="420.3,1712.8 447.6,1712.8" fill="none" stroke="#000000" stroke-width="1.40"/>
<polyline points="420.3,1723.5 447.6,1723.5" fill="none" stroke="#000000" stroke-width="1.40"/>
<polyline points="443.0,1699.8 443.0,1705.4" fill="none" stroke="#000000" stroke-width="1.40"/>
<polyline points="424.8,1710.2 424.8,1715.6" fill="none" stroke="#000000" stroke-width="1.40"/>
<circle cx="443.0" cy="1697.2" r="2.60" fill="#fff" stroke="#000" stroke-width="1.30"/>
<circle cx="443.0" cy="1708.0" r="2.60" fill="#fff" stroke="#000" stroke-width="1.30"/>
<circle cx="424.8" cy="1707.6" r="2.60" fill="#fff" stroke="#000" stroke-width="1.30"/>
<circle cx="424.8" cy="1718.2" r="2.60" fill="#fff" stroke="#000" stroke-width="1.30"/>
<polyline points="424.8,1725.3 424.8,1731.3" fill="none" stroke="#000000" stroke-width="1.50"/>
<polyline points="422.8,1728.8 424.8,1731.6 426.8,1728.8" fill="none" stroke="#000000" stroke-width="1.40"/>
<circle cx="433.8" cy="1728.3" r="1.70" fill="#fff" stroke="#000" stroke-width="1.30"/>
<polyline points="443.0,1725.7 443.0,1731.7" fill="none" stroke="#000000" stroke-width="1.50"/>
<polyline points="441.0,1728.2 443.0,1725.4 445.0,1728.2" fill="none" stroke="#000000" stroke-width="1.40"/>
<path d="M435.4 1760 L442 1763.7 L442 1782.3 L435.4 1786.9 Z" fill="#fff" stroke="#000" stroke-width="1.50" />
<rect x="442.0" y="1763.7" width="5.6" height="18.6" fill="#fff" stroke="#000" stroke-width="1.65"/>
<polyline points="726.3,691.3 726.3,728.9 729.3,728.9 729.3,1163.7" fill="none" stroke="#000000" stroke-width="1.60"/>
<polyline points="740.6,691.3 740.6,728.9 737.6,728.9 737.6,1187.8" fill="none" stroke="#ffff00" stroke-width="1.60"/>
<polyline points="797.8,686.8 797.8,710.6" fill="none" stroke="#3f7878" stroke-width="1.20"/>
<polyline points="809.5,686.8 809.5,1163.7" fill="none" stroke="#000000" stroke-width="1.60"/>
<polyline points="821.6,686.8 821.6,710.6" fill="none" stroke="#8aa4bd" stroke-width="1.20"/>
<polyline points="878.0,691.8 878.0,730.1 881.7,730.1 881.7,1163.7" fill="none" stroke="#000000" stroke-width="1.60"/>
<polyline points="892.5,691.8 892.5,730.1 890.5,730.1 890.5,1187.8" fill="none" stroke="#ffff00" stroke-width="1.60"/>
<polyline points="995.9,695.0 995.9,708.0" fill="none" stroke="#ff0000" stroke-width="1.60"/>
<polyline points="995.9,742.0 995.9,1221.8" fill="none" stroke="#ff0000" stroke-width="1.60" stroke-dasharray="12.5 6.7"/>
<polyline points="1015.0,691.3 1015.0,1169.4" fill="none" stroke="#ff0000" stroke-width="1.60"/>
<polyline points="1033.3,691.7 1033.3,708.0" fill="none" stroke="#000000" stroke-width="1.40" stroke-dasharray="3 2.3"/>
<polyline points="1033.9,743.2 1033.9,1128.3 1461.5,1128.3 1461.5,828.2" fill="none" stroke="#00b050" stroke-width="1.40"/>
<polyline points="1050.9,691.3 1050.9,1163.7" fill="none" stroke="#000000" stroke-width="1.60"/>
<circle cx="729.3" cy="1163.7" r="2.2" fill="#000"/>
<circle cx="809.5" cy="1163.7" r="2.2" fill="#000"/>
<circle cx="881.7" cy="1163.7" r="2.2" fill="#000"/>
<circle cx="1050.9" cy="1163.7" r="2.2" fill="#000"/>
<circle cx="737.6" cy="1187.8" r="2.2" fill="#000"/>
<circle cx="890.5" cy="1187.8" r="2.2" fill="#000"/>
<circle cx="1015.0" cy="1169.4" r="2.2" fill="#000"/>
<circle cx="995.8" cy="1221.8" r="2.2" fill="#000"/>
<circle cx="734.4" cy="669.7" r="18.80" fill="#fff" stroke="#000" stroke-width="1.50"/>
<rect x="718.3" y="684.3" width="31.9" height="7.0" fill="#fff" stroke="#000" stroke-width="1.50"/>
<path d="M727.3 684.3 L727.3 674.8 L729.4 671.3 L732.2 675.0 L734.6 671.3 L737.4 675.0 L741.6 671.1 L741.9 684.3" fill="none" stroke="#000" stroke-width="1.40" />
<circle cx="886.2" cy="670.5" r="18.80" fill="#fff" stroke="#000" stroke-width="1.50"/>
<rect x="870.5" y="684.8" width="31.8" height="7.0" fill="#fff" stroke="#000" stroke-width="1.50"/>
<path d="M879.1 684.8 L879.1 675.3 L881.2 671.8 L884.0 675.5 L886.4 671.8 L889.2 675.5 L893.4 671.6 L893.7 684.8" fill="none" stroke="#000" stroke-width="1.40" />
<circle cx="809.0" cy="648.4" r="31.80" fill="#fff" stroke="#000" stroke-width="1.50"/>
<rect x="781.5" y="676.0" width="55.9" height="10.8" fill="#fff" stroke="#000" stroke-width="1.50"/>
<path d="M797.3 676 L797.3 657 L800 651 L803.5 658 L806.8 651 L809.8 658 L809.8 676 M809.8 658 L813 651 L816.5 658 L820 651 L821.3 657 L821.3 676" fill="none" stroke="#000" stroke-width="1.40" />
<rect x="724.1" y="707.6" width="4.4" height="13.8" fill="#fff" stroke="#000" stroke-width="1.60"/>
<rect x="738.4" y="707.6" width="4.4" height="13.8" fill="#fff" stroke="#000" stroke-width="1.60"/>
<rect x="875.8" y="707.6" width="4.4" height="14.3" fill="#fff" stroke="#000" stroke-width="1.60"/>
<rect x="890.3" y="707.6" width="4.4" height="14.3" fill="#fff" stroke="#000" stroke-width="1.60"/>
<rect x="772.7" y="710.6" width="71.9" height="31.8" fill="#fff" stroke="#000" stroke-width="1.65"/>
<rect x="759.7" y="722.4" width="97.7" height="8.2" fill="#fff" stroke="#000" stroke-width="1.65"/>
<rect x="970.2" y="641.4" width="90.6" height="50.3" fill="#fff" stroke="#000" stroke-width="1.65"/>
<polyline points="987.1,641.4 987.1,691.7" fill="none" stroke="#000000" stroke-width="1.65"/>
<polyline points="1005.5,641.4 1005.5,691.7" fill="none" stroke="#000000" stroke-width="1.65"/>
<polyline points="1023.8,641.4 1023.8,691.7" fill="none" stroke="#000000" stroke-width="1.65"/>
<polyline points="1042.2,641.4 1042.2,691.7" fill="none" stroke="#000000" stroke-width="1.65"/>
<polyline points="970.2,656.9 1060.8,656.9" fill="none" stroke="#000000" stroke-width="1.65"/>
<polyline points="970.2,673.6 1060.8,673.6" fill="none" stroke="#000000" stroke-width="1.65"/>
<polyline points="1000.5,649.4 1011.9,649.4" fill="none" stroke="#000000" stroke-width="1.40"/>
<polyline points="1037.2,665.2 1048.6,665.2" fill="none" stroke="#000000" stroke-width="1.40"/>
<polyline points="1037.2,681.9 1048.6,681.9" fill="none" stroke="#000000" stroke-width="1.40"/>
<circle cx="997.0" cy="649.4" r="3.50" fill="#fff" stroke="#000" stroke-width="1.50"/>
<circle cx="1015.4" cy="649.4" r="3.50" fill="#fff" stroke="#000" stroke-width="1.50"/>
<circle cx="1033.7" cy="665.2" r="3.50" fill="#fff" stroke="#000" stroke-width="1.50"/>
<circle cx="1052.1" cy="665.2" r="3.50" fill="#fff" stroke="#000" stroke-width="1.50"/>
<circle cx="1033.7" cy="681.9" r="3.50" fill="#fff" stroke="#000" stroke-width="1.50"/>
<circle cx="1052.1" cy="681.9" r="3.50" fill="#fff" stroke="#000" stroke-width="1.50"/>
<path d="M976.3 653.9 A5.3 5.3 0 1 1 981.3 653.9" fill="none" stroke="#000" stroke-width="1.60" />
<path d="M975.6 669.4 A5.2 5.2 0 1 1 982.0 669.4 L975.3 661.6 M975.6 669.4 L982.3 661.6" fill="none" stroke="#000" stroke-width="1.60" />
<rect x="974.3" y="680.2" width="8.3" height="6.2" fill="#fff" stroke="#000" stroke-width="1.50"/>
<path d="M975.4 680.2 L975.4 679 A3.1 3.1 0 0 1 981.6 679 L981.6 680.2" fill="none" stroke="#000" stroke-width="1.50" />
<polyline points="978.5,680.2 978.5,686.4" fill="none" stroke="#000000" stroke-width="1.40"/>
<rect x="984.1" y="707.8" width="76.5" height="35.0" fill="#fff" stroke="#000" stroke-width="1.65"/>
<rect x="970.8" y="721.9" width="103.1" height="8.1" fill="#fff" stroke="#000" stroke-width="1.65"/>
<ellipse cx="1021.6" cy="883.0" rx="40.9" ry="5.8" fill="none" stroke="#000" stroke-width="1.50"/>
<polyline points="1280.2,763.9 1280.2,1163.7" fill="none" stroke="#000000" stroke-width="1.40"/>
<polyline points="1239.9,739.8 1239.9,718.3 1271.1,718.3" fill="none" stroke="#000000" stroke-width="1.50"/>
<polyline points="1289.5,718.3 1308.2,718.3" fill="none" stroke="#000000" stroke-width="1.50"/>
<polyline points="1308.2,718.3 1308.2,1150.3" fill="none" stroke="#000000" stroke-width="1.40" stroke-dasharray="12.5 6.7"/>
<circle cx="1280.2" cy="1163.7" r="2.2" fill="#000"/>
<circle cx="1308.2" cy="1150.3" r="2.2" fill="#000"/>
<rect x="1259.3" y="709.7" width="43.4" height="54.2" fill="none" stroke="#000" stroke-width="1.50"/>
<path d="M1271.1 718.3 L1268.9 719.9 L1273.3 723.0 L1268.9 726.1 L1273.3 729.2 L1268.9 732.3 L1273.3 735.5 L1268.9 738.6 L1273.3 741.7 L1268.9 744.8 L1273.3 747.9 L1271.1 749.5" fill="none" stroke="#000" stroke-width="1.30" />
<path d="M1291.1 718.3 L1288.7 719.2 L1293.5 721.1 L1288.7 723.0 L1293.5 724.9 L1288.7 726.8 L1293.5 728.7 L1288.7 730.6 L1293.5 732.5 L1288.7 734.3 L1293.5 736.2 L1288.7 738.1 L1293.5 740.0 L1288.7 741.9 L1293.5 743.8 L1288.7 745.7 L1293.5 747.6 L1291.1 748.5" fill="none" stroke="#000" stroke-width="1.30" />
<polyline points="1281.1,717.2 1281.1,746.0" fill="none" stroke="#000000" stroke-width="1.50"/>
<polyline points="1270.0,749.5 1291.1,749.5 1291.1,748.0" fill="none" stroke="#000000" stroke-width="1.40"/>
<path d="M1232.8 739.8 L1247.9 739.8 L1240.4 752.4 Z" fill="#fff" stroke="#000" stroke-width="1.50" />
<path d="M1232.2 749.5 Q1240.5 753.5 1242.3 762.5" fill="none" stroke="#000" stroke-width="1.30" />
<path d="M1241.3 757.5 Q1243 765.5 1249.2 768.8" fill="none" stroke="#000" stroke-width="1.30" />
<path d="M1232.2 778.6 L1248.8 778.6 L1240.4 766.6 Z" fill="#fff" stroke="#000" stroke-width="1.50" />
<polyline points="1240.4,778.6 1240.4,789.0" fill="none" stroke="#000000" stroke-width="1.50"/>
<polyline points="1235.4,789.0 1244.4,789.0" fill="none" stroke="#000000" stroke-width="1.60"/>
<ellipse cx="1294.0" cy="892.6" rx="22.0" ry="4.3" fill="none" stroke="#000" stroke-width="1.40"/>
<polyline points="1378.5,751.2 1378.5,796.3" fill="none" stroke="#000000" stroke-width="1.40"/>
<polyline points="1395.4,751.2 1395.4,796.3" fill="none" stroke="#0f6f12" stroke-width="1.40"/>
<polyline points="1411.0,751.2 1411.0,796.3" fill="none" stroke="#ff0000" stroke-width="1.40"/>
<polyline points="1428.1,751.2 1428.1,796.3" fill="none" stroke="#ff0000" stroke-width="1.40" stroke-dasharray="12.5 6.7"/>
<polyline points="1445.2,751.2 1445.2,796.3" fill="none" stroke="#ffff00" stroke-width="1.40"/>
<polyline points="1445.2,751.2 1445.2,796.3" fill="none" stroke="#000000" stroke-width="1.40" stroke-dasharray="12.5 6.7"/>
<polyline points="1461.8,751.2 1461.8,796.3" fill="none" stroke="#00b050" stroke-width="1.40"/>
<polyline points="1479.0,751.2 1479.0,796.3" fill="none" stroke="#ffff00" stroke-width="1.40"/>
<polyline points="1479.0,751.2 1479.0,796.3" fill="none" stroke="#00b050" stroke-width="1.40" stroke-dasharray="12.5 6.7"/>
<polyline points="1495.8,751.2 1495.8,796.3" fill="none" stroke="#00b050" stroke-width="1.40" stroke-dasharray="12.5 6.7"/>
<polyline points="1512.6,751.2 1512.6,796.3" fill="none" stroke="#000000" stroke-width="1.40"/>
<polyline points="1512.6,751.2 1512.6,796.3" fill="none" stroke="#00b050" stroke-width="1.40" stroke-dasharray="12.5 6.7"/>
<polyline points="1379.8,828.2 1379.8,1163.7" fill="none" stroke="#000000" stroke-width="1.40"/>
<polyline points="1395.2,828.2 1395.2,1142.0" fill="none" stroke="#0f6f12" stroke-width="1.40"/>
<polyline points="1411.0,828.2 1411.0,1169.4" fill="none" stroke="#ff0000" stroke-width="1.40"/>
<polyline points="1428.2,828.2 1428.2,1221.8" fill="none" stroke="#ff0000" stroke-width="1.40" stroke-dasharray="12.5 6.7"/>
<polyline points="1479.3,828.2 1479.3,1174.3" fill="none" stroke="#ffff00" stroke-width="1.40"/>
<polyline points="1479.3,828.2 1479.3,1174.3" fill="none" stroke="#00b050" stroke-width="1.40" stroke-dasharray="12.5 6.7"/>
<polyline points="1496.5,828.2 1496.5,1181.4" fill="none" stroke="#00b050" stroke-width="1.40" stroke-dasharray="12.5 6.7"/>
<polyline points="1513.0,828.2 1513.0,1200.6" fill="none" stroke="#000000" stroke-width="1.40"/>
<polyline points="1513.0,828.2 1513.0,1200.6" fill="none" stroke="#00b050" stroke-width="1.40" stroke-dasharray="12.5 6.7"/>
<circle cx="1379.8" cy="1163.7" r="2.3" fill="#000"/>
<circle cx="1395.2" cy="1142.0" r="2.3" fill="#000"/>
<circle cx="1411.0" cy="1169.4" r="2.3" fill="#000"/>
<circle cx="1428.2" cy="1221.8" r="2.3" fill="#000"/>
<circle cx="1479.3" cy="1174.3" r="2.3" fill="#000"/>
<circle cx="1496.5" cy="1181.4" r="2.3" fill="#000"/>
<rect x="1364.7" y="689.6" width="161.1" height="61.6" fill="#fff" stroke="#000" stroke-width="1.65"/>
<rect x="1361.2" y="796.3" width="171.4" height="31.9" fill="#fff" stroke="#000" stroke-width="1.65"/>
<rect x="1349.4" y="805.6" width="194.7" height="11.8" fill="#fff" stroke="#000" stroke-width="1.65"/>
<ellipse cx="1445.6" cy="904.6" rx="81.5" ry="5.8" fill="none" stroke="#000" stroke-width="1.40"/>
<polyline points="1590.4,762.3 1590.4,1163.7" fill="none" stroke="#000000" stroke-width="1.40"/>
<circle cx="1590.4" cy="1163.7" r="2.3" fill="#000"/>
<polyline points="1763.2,677.6 1763.2,719.1 1740.8,719.1 1740.8,1148.3 1615.3,1148.3 1615.3,762.3" fill="none" stroke="#ff0000" stroke-width="1.40"/>
<polyline points="1763.2,677.6 1763.2,719.1 1740.8,719.1 1740.8,1148.3 1615.3,1148.3 1615.3,762.3" fill="none" stroke="#000000" stroke-width="1.40" stroke-dasharray="12.5 6.7"/>
<polyline points="1637.9,762.3 1637.9,1142.0 1727.8,1142.0 1727.8,808.1 1701.3,808.1 1701.3,772.3" fill="none" stroke="#0f7ad4" stroke-width="1.40" stroke-dasharray="12.5 6.7"/>
<polyline points="1579.8,762.3 1579.8,812.0" fill="none" stroke="#000000" stroke-width="1.40" stroke-dasharray="12.5 6.7"/>
<polyline points="1661.8,762.3 1661.8,830.0" fill="none" stroke="#0f6f12" stroke-width="1.40"/>
<rect x="1573.0" y="698.3" width="95.0" height="64.0" fill="#fff" stroke="#000" stroke-width="1.65"/>
<rect x="1574.5" y="798.0" width="22.0" height="10.0" fill="#fff" stroke="#000" stroke-width="1.20"/>
<rect x="1571.7" y="801.3" width="27.6" height="3.3" fill="#999" stroke="#000" stroke-width="1.20"/>
<rect x="1612.8" y="801.9" width="5.2" height="19.3" fill="#fff" stroke="#000" stroke-width="1.60"/>
<rect x="1635.3" y="800.0" width="5.2" height="19.4" fill="#fff" stroke="#000" stroke-width="1.60"/>
<rect x="1659.2" y="800.0" width="5.2" height="19.4" fill="#fff" stroke="#000" stroke-width="1.60"/>
<ellipse cx="1619.3" cy="865.3" rx="51.4" ry="5.0" fill="none" stroke="#000" stroke-width="1.40"/>
<polyline points="1755.2,675.4 1755.2,711.5 1701.3,711.5 1701.3,750.5" fill="none" stroke="#1f6b62" stroke-width="1.40" stroke-dasharray="12.5 6.7"/>
<polyline points="1771.0,627.7 1805.8,627.7 1805.8,1113.2 2066.6,1113.2 2066.6,1163.7" fill="none" stroke="#000000" stroke-width="1.40"/>
<polyline points="1772.7,660.3 1788.3,660.3 1788.3,746.7" fill="none" stroke="#ff0000" stroke-width="1.40"/>
<polyline points="1772.7,660.3 1788.3,660.3 1788.3,746.7" fill="none" stroke="#00b050" stroke-width="1.40" stroke-dasharray="12.5 6.7"/>
<polyline points="1789.0,771.3 1789.6,1157.6" fill="none" stroke="#ff0000" stroke-width="1.40"/>
<polyline points="1789.0,771.3 1789.6,1157.6" fill="none" stroke="#00b050" stroke-width="1.40" stroke-dasharray="12.5 6.7"/>
<circle cx="1789.6" cy="1157.6" r="2.3" fill="#000"/>
<circle cx="2066.6" cy="1163.7" r="2.3" fill="#000"/>
<circle cx="1771.0" cy="653.5" r="25.80" fill="none" stroke="#000" stroke-width="1.50"/>
<path d="M1755.4 635.4 L1757.3 636.5 L1753.5 638.8 L1757.3 641.0 L1753.5 643.3 L1757.3 645.5 L1753.5 647.8 L1757.3 650.0 L1753.5 652.3 L1757.3 654.5 L1753.5 656.8 L1757.3 659.0 L1753.5 661.3 L1757.3 663.5 L1753.5 665.8 L1757.3 668.0 L1753.5 670.3 L1755.4 671.4" fill="none" stroke="#000" stroke-width="1.30" />
<path d="M1763.3 630.9 L1765.2 632.1 L1761.4 634.4 L1765.2 636.7 L1761.4 639.1 L1765.2 641.4 L1761.4 643.7 L1765.2 646.1 L1761.4 648.4 L1765.2 650.7 L1761.4 653.1 L1765.2 655.4 L1761.4 657.8 L1765.2 660.1 L1761.4 662.4 L1765.2 664.8 L1761.4 667.1 L1765.2 669.4 L1761.4 671.8 L1765.2 674.1 L1761.4 676.4 L1763.3 677.6" fill="none" stroke="#000" stroke-width="1.30" />
<path d="M1772.3 629.7 L1774.2 630.9 L1770.4 633.3 L1774.2 635.7 L1770.4 638.1 L1774.2 640.5 L1770.4 642.9 L1774.2 645.3 L1770.4 647.7 L1774.2 650.1 L1770.4 652.5 L1774.2 654.8 L1770.4 657.2 L1774.2 659.6 L1770.4 662.0 L1774.2 664.4 L1770.4 666.8 L1774.2 669.2 L1770.4 671.6 L1774.2 674.0 L1770.4 676.4 L1772.3 677.6" fill="none" stroke="#000" stroke-width="1.30" />
<rect x="1698.7" y="750.5" width="5.2" height="21.8" fill="#fff" stroke="#000" stroke-width="1.60"/>
<rect x="1738.4" y="750.5" width="5.2" height="22.0" fill="#fff" stroke="#000" stroke-width="1.60"/>
<rect x="1764.7" y="746.7" width="52.6" height="24.6" fill="#fff" stroke="#000" stroke-width="1.65"/>
<rect x="1755.4" y="756.2" width="72.0" height="6.1" fill="#fff" stroke="#000" stroke-width="1.65"/>
<ellipse cx="1766.0" cy="831.4" rx="50.0" ry="5.5" fill="none" stroke="#000" stroke-width="1.40"/>
<polyline points="1896.6,675.8 1896.6,1157.6" fill="none" stroke="#ff0000" stroke-width="1.40"/>
<polyline points="1896.6,675.8 1896.6,1157.6" fill="none" stroke="#00b050" stroke-width="1.40" stroke-dasharray="12.5 6.7"/>
<circle cx="1896.5" cy="1157.6" r="2.3" fill="#000"/>
<polyline points="1907.2,675.8 1907.2,1104.4 2070.6,1104.4 2070.6,1163.7" fill="none" stroke="#000000" stroke-width="1.40"/>
<circle cx="2070.6" cy="1163.7" r="2.3" fill="#000"/>
<rect x="1887.0" y="656.5" width="29.3" height="19.3" fill="#fff" stroke="#000" stroke-width="1.65"/>
<rect x="1888.0" y="690.3" width="27.6" height="12.6" fill="#fff" stroke="#000" stroke-width="1.30"/>
<rect x="1882.5" y="694.8" width="38.1" height="3.5" fill="#fff" stroke="#000" stroke-width="1.30"/>
<ellipse cx="1902.0" cy="815.6" rx="12.5" ry="5.0" fill="none" stroke="#000" stroke-width="1.40"/>
<polyline points="2050.2,748.0 2050.2,1221.8" fill="none" stroke="#ff0000" stroke-width="1.40" stroke-dasharray="12.5 6.7"/>
<polyline points="2066.0,748.0 2066.0,778.5 2076.0,778.5 2076.0,1163.7" fill="none" stroke="#000000" stroke-width="1.40"/>
<circle cx="2075.6" cy="1163.7" r="2.3" fill="#000"/>
<rect x="1998.8" y="659.0" width="91.0" height="65.2" fill="#fff" stroke="#000" stroke-width="1.65"/>
<rect x="2013.8" y="724.2" width="61.7" height="23.8" fill="#fff" stroke="#000" stroke-width="1.65"/>
<ellipse cx="2047.7" cy="822.7" rx="46.4" ry="5.5" fill="none" stroke="#000" stroke-width="1.40"/>
<polyline points="2190.0,825.3 2169.1,825.3 2169.1,762.8 2409.2,762.8 2409.2,826.9 2367.0,826.9" fill="none" stroke="#ff0000" stroke-width="1.60"/>
<polyline points="2190.0,825.3 2181.5,828.5 2180.7,832.0 2180.7,884.4" fill="none" stroke="#ff0000" stroke-width="1.60"/>
<polyline points="2180.7,904.5 2180.7,911.5" fill="none" stroke="#ff0000" stroke-width="1.60"/>
<rect x="2189.7" y="813.7" width="70.6" height="57.1" fill="#fff" stroke="#000" stroke-width="1.65"/>
<rect x="2192.7" y="890.9" width="42" height="5.2" fill="url(#hatch)"/>
<rect x="2177.6" y="884.4" width="6.2" height="20.1" fill="#fff" stroke="#000" stroke-width="1.40"/>
<polyline points="2178.5,885.5 2183.0,903.5" fill="none" stroke="#000000" stroke-width="1.00"/>
<polyline points="2183.0,885.5 2178.5,903.5" fill="none" stroke="#000000" stroke-width="1.00"/>
<rect x="2177.6" y="911.5" width="6.2" height="19.5" fill="#fff" stroke="#000" stroke-width="1.40"/>
<polyline points="2331.7,827.3 2296.0,827.3 2296.0,1064.2 2231.6,1064.2 2231.6,1683.2" fill="none" stroke="#000000" stroke-width="1.50"/>
<polyline points="2364.5,877.0 2364.5,1172.6 2349.7,1172.6 2349.7,1190.5" fill="none" stroke="#000000" stroke-width="1.50"/>
<rect x="2308.0" y="813.3" width="87.0" height="67.1" fill="none" stroke="#000" stroke-width="1.65"/>
<polyline points="2333.9,816.9 2363.9,816.9" fill="none" stroke="#000000" stroke-width="1.50"/>
<polyline points="2348.9,816.9 2348.9,837.3" fill="none" stroke="#000000" stroke-width="1.50"/>
<circle cx="2334.5" cy="827.3" r="2.80" fill="#fff" stroke="#000" stroke-width="1.40"/>
<circle cx="2364.1" cy="827.3" r="2.80" fill="#fff" stroke="#000" stroke-width="1.40"/>
<path d="M2341.1 880.4 L2341.1 850.4 L2366.5 850.4 L2366.5 853 L2363 856 L2369.5 860 L2363 864 L2369.5 868 L2363 872 L2366.5 875 L2364.5 877 L2364.5 880.4" fill="none" stroke="#000" stroke-width="1.50" />
<ellipse cx="2276.0" cy="1010.3" rx="14.4" ry="4.4" fill="none" stroke="#000" stroke-width="1.40"/>
<ellipse cx="2348.7" cy="1021.3" rx="26.3" ry="4.2" fill="none" stroke="#000" stroke-width="1.40"/>
<polyline points="2190.8,1163.7 2190.8,1190.5 2509.0,1190.5" fill="none" stroke="#000000" stroke-width="1.50"/>
<polyline points="2385.3,1190.5 2385.3,1233.2 2460.5,1233.2 2460.5,1440.9 2655.7,1440.9 2655.7,1629.6" fill="none" stroke="#000000" stroke-width="1.50"/>
<polyline points="2397.4,1190.5 2397.4,1170.0 2474.3,1170.0 2474.3,1075.3 2585.4,1075.3 2585.4,1014.5 2599.7,1014.5" fill="none" stroke="#000000" stroke-width="1.50"/>
<polyline points="2397.4,1190.5 2397.4,1214.2 2474.3,1214.2 2474.3,1284.8 2587.9,1284.8 2587.9,1344.9 2602.2,1344.9" fill="none" stroke="#000000" stroke-width="1.50"/>
<circle cx="2190.8" cy="1164.2" r="2.2" fill="#000"/>
<circle cx="2349.7" cy="1190.5" r="2.2" fill="#000"/>
<circle cx="2385.3" cy="1190.5" r="2.2" fill="#000"/>
<ellipse cx="2206.0" cy="1300.5" rx="18.4" ry="4.0" fill="none" stroke="#000" stroke-width="1.40"/>
<rect x="2224.8" y="1683.2" width="13.0" height="6.8" fill="#fff" stroke="#000" stroke-width="1.40"/>
<circle cx="2233.0" cy="1710.0" r="20.50" fill="#fff" stroke="#000" stroke-width="1.50"/>
<polyline points="2250.4,1721.5 2276.0,1721.5 2276.0,1733.5" fill="none" stroke="#000000" stroke-width="1.50"/>
<polyline points="2271.5,1733.5 2280.5,1733.5" fill="none" stroke="#000000" stroke-width="1.60"/>
<rect x="2347.0" y="1683.0" width="6.6" height="5.5" fill="#fff" stroke="#000" stroke-width="1.30"/>
<rect x="2375.3" y="1683.0" width="6.6" height="5.5" fill="#fff" stroke="#000" stroke-width="1.30"/>
<rect x="2338.0" y="1688.2" width="52.9" height="40.8" fill="#fff" stroke="#000" stroke-width="1.50"/>
<circle cx="2350.6" cy="1705.0" r="2.80" fill="#fff" stroke="#000" stroke-width="1.30"/>
<circle cx="2376.5" cy="1705.5" r="2.80" fill="#fff" stroke="#000" stroke-width="1.30"/>
<polyline points="2346.0,1717.0 2376.5,1708.0" fill="none" stroke="#000000" stroke-width="1.40"/>
<ellipse cx="2432.9" cy="1200.0" rx="4.0" ry="43.0" fill="none" stroke="#000" stroke-width="1.40"/>
<ellipse cx="2511.0" cy="1437.1" rx="3.6" ry="12.0" fill="none" stroke="#000" stroke-width="1.40"/>
<polyline points="2552.8,1174.7 2604.7,1174.7" fill="none" stroke="#ffff00" stroke-width="1.60"/>
<polyline points="2552.8,1192.8 2604.7,1192.8" fill="none" stroke="#000000" stroke-width="1.50"/>
<polyline points="2552.8,1208.3 2604.7,1208.3" fill="none" stroke="#7030a0" stroke-width="1.60"/>
<rect x="2509.0" y="1141.5" width="43.8" height="97.6" fill="#fff" stroke="#000" stroke-width="1.65"/>
<rect x="2525.9" y="1124.4" width="11.1" height="131.9" fill="#fff" stroke="#000" stroke-width="1.65"/>
<circle cx="2643.0" cy="1191.0" r="29.30" fill="#fff" stroke="#000" stroke-width="1.50"/>
<rect x="2604.7" y="1153.9" width="15.8" height="76.0" fill="#fff" stroke="#000" stroke-width="1.65"/>
<path d="M2620.5 1175.2 L2648 1175.2 L2654.5 1178.5 L2643 1183.5 L2656 1188.5 L2643 1192.8 L2620.5 1192.8 M2643 1192.8 L2654 1197.5 L2642 1202 L2653.5 1205.8 L2647 1209 L2620.5 1209" fill="none" stroke="#000" stroke-width="1.40" />
<circle cx="2630.0" cy="1005.3" r="25.60" fill="#fff" stroke="#000" stroke-width="1.50"/>
<rect x="2599.7" y="983.2" width="10.0" height="42.6" fill="#fff" stroke="#000" stroke-width="1.50"/>
<path d="M2609.7 993.3 L2623.7 993.3 L2627.7 995.8 L2621.0 999.7 L2627.7 1003.9 L2621.0 1008.1 L2627.7 1012.0 L2623.7 1014.5 L2609.7 1014.5" fill="none" stroke="#000" stroke-width="1.40" />
<rect x="2536.5" y="1065.5" width="14.6" height="4.2" fill="#fff" stroke="#000" stroke-width="1.80"/>
<rect x="2536.5" y="1073.2" width="14.6" height="4.2" fill="#fff" stroke="#000" stroke-width="1.80"/>
<circle cx="2632.5" cy="1354.9" r="25.60" fill="#fff" stroke="#000" stroke-width="1.50"/>
<rect x="2602.2" y="1334.4" width="10.0" height="42.6" fill="#fff" stroke="#000" stroke-width="1.50"/>
<path d="M2612.2 1344.9 L2626.2 1344.9 L2630.2 1347.5 L2623.5 1351.4 L2630.2 1355.7 L2623.5 1360.0 L2630.2 1363.9 L2626.2 1366.5 L2612.2 1366.5" fill="none" stroke="#000" stroke-width="1.40" />
<rect x="2538.5" y="1282.7" width="14.3" height="4.2" fill="#fff" stroke="#000" stroke-width="1.80"/>
<rect x="2538.5" y="1290.3" width="14.3" height="4.2" fill="#fff" stroke="#000" stroke-width="1.80"/>
<rect x="2646.3" y="1636.7" width="40.6" height="36.3" fill="#fff" stroke="#000" stroke-width="1.65"/>
<circle cx="2655.8" cy="1632.9" r="3.30" fill="#fff" stroke="#000" stroke-width="1.40"/>
<circle cx="2679.9" cy="1632.9" r="3.30" fill="#fff" stroke="#000" stroke-width="1.40"/>
<rect x="191.4" y="747.0" width="508.6" height="1093.5" fill="none" stroke="#000" stroke-width="2.0"/>
<rect x="700.0" y="574.8" width="491.3" height="1265.7" fill="none" stroke="#000" stroke-width="2.0"/>
<rect x="1191.3" y="575.0" width="963.0" height="1265.5" fill="none" stroke="#000" stroke-width="2.0"/>
<rect x="2154.3" y="747.1" width="268.2" height="1093.4" fill="none" stroke="#000" stroke-width="2.0"/>
<rect x="2422.5" y="747.0" width="325.1" height="1093.8" fill="none" stroke="#000" stroke-width="2.0"/>
<text x="388.5" y="727.0" font-size="16.00" text-anchor="middle" font-weight="normal" fill="#111" >Руль</text>
<text x="863.0" y="516.3" font-size="16.00" text-anchor="middle" font-weight="normal" fill="#111" >Фара,</text>
<text x="863.0" y="535.6" font-size="16.00" text-anchor="middle" font-weight="normal" fill="#111" >замок</text>
<text x="863.0" y="554.7" font-size="16.00" text-anchor="middle" font-weight="normal" fill="#111" >зажигания</text>
<text x="1819.8" y="545.2" font-size="16.00" text-anchor="middle" font-weight="normal" fill="#111" >Центральная часть (полик)</text>
<text x="2290.0" y="727.0" font-size="16.00" text-anchor="middle" font-weight="normal" fill="#111" >Сидушка</text>
<text x="2595.5" y="730.0" font-size="16.00" text-anchor="middle" font-weight="normal" fill="#111" >Задняя часть</text>
<text x="318.6" y="791.0" font-size="10.75" text-anchor="middle" font-weight="normal" fill="#111" >Переключатель \</text>
<text x="318.6" y="804.0" font-size="10.75" text-anchor="middle" font-weight="normal" fill="#111" >выключатель</text>
<text x="318.6" y="817.0" font-size="10.75" text-anchor="middle" font-weight="normal" fill="#111" >освещения</text>
<text x="310.6" y="876.7" font-size="10.75" text-anchor="middle" font-weight="normal" fill="#111" >Зажигание</text>
<text x="312.0" y="902.5" font-size="10.75" text-anchor="middle" font-weight="normal" fill="#111" >Зажигание</text>
<text x="312.0" y="915.5" font-size="10.75" text-anchor="middle" font-weight="normal" fill="#111" >вкл. \ выкл.</text>
<text x="315.6" y="952.4" font-size="10.75" text-anchor="middle" font-weight="normal" fill="#111" >Правый</text>
<text x="315.6" y="965.6" font-size="10.75" text-anchor="middle" font-weight="normal" fill="#111" >поворотник</text>
<text x="307.3" y="1008.8" font-size="10.75" text-anchor="middle" font-weight="normal" fill="#111" >Ручка</text>
<text x="307.3" y="1021.8" font-size="10.75" text-anchor="middle" font-weight="normal" fill="#111" >тормоза</text>
<text x="309.3" y="1098.1" font-size="10.75" text-anchor="middle" font-weight="normal" fill="#111" >Реле</text>
<text x="309.3" y="1111.2" font-size="10.75" text-anchor="middle" font-weight="normal" fill="#111" >поворотников</text>
<text x="432.6" y="1085.6" font-size="10.75" text-anchor="middle" font-weight="normal" fill="#111" >B</text>
<text x="433.0" y="1126.7" font-size="10.75" text-anchor="middle" font-weight="normal" fill="#111" >L</text>
<text x="408.0" y="1164.0" font-size="8.50" text-anchor="middle" font-weight="normal" fill="#111" >12</text>
<text x="408.5" y="1177.6" font-size="8.50" text-anchor="middle" font-weight="normal" fill="#111" >11</text>
<text x="403.3" y="1201.2" font-size="8.50" text-anchor="middle" font-weight="normal" fill="#111" >10</text>
<text x="378.7" y="1250.8" font-size="9.60" text-anchor="middle" font-weight="normal" fill="#111" >7</text>
<text x="378.7" y="1260.4" font-size="9.60" text-anchor="middle" font-weight="normal" fill="#111" >4</text>
<text x="378.7" y="1269.4" font-size="9.60" text-anchor="middle" font-weight="normal" fill="#111" >1</text>
<text x="378.7" y="1278.5" font-size="9.60" text-anchor="middle" font-weight="normal" fill="#111" >2</text>
<text x="378.7" y="1287.1" font-size="9.60" text-anchor="middle" font-weight="normal" fill="#111" >5</text>
<text x="378.7" y="1295.1" font-size="9.60" text-anchor="middle" font-weight="normal" fill="#111" >8</text>
<text x="378.7" y="1301.2" font-size="9.60" text-anchor="middle" font-weight="normal" fill="#111" >9</text>
<text x="378.7" y="1308.6" font-size="9.60" text-anchor="middle" font-weight="normal" fill="#111" >6</text>
<text x="378.7" y="1316.0" font-size="9.60" text-anchor="middle" font-weight="normal" fill="#111" >3</text>
<text x="310.0" y="1436.9" font-size="10.75" text-anchor="middle" font-weight="normal" fill="#111" >Ручка</text>
<text x="310.0" y="1449.9" font-size="10.75" text-anchor="middle" font-weight="normal" fill="#111" >тормоза</text>
<text x="320.6" y="1520.2" font-size="10.75" text-anchor="middle" font-weight="normal" fill="#111" >Левый</text>
<text x="320.6" y="1533.1" font-size="10.75" text-anchor="middle" font-weight="normal" fill="#111" >поворотник</text>
<text x="386.9" y="1573.8" font-size="10.75" text-anchor="middle" font-weight="normal" fill="#111" >Кнопка гудка</text>
<text x="340.8" y="1632.0" font-size="10.75" text-anchor="middle" font-weight="normal" fill="#111" >Переключатель</text>
<text x="340.8" y="1645.0" font-size="10.75" text-anchor="middle" font-weight="normal" fill="#111" >ближний \</text>
<text x="340.8" y="1658.0" font-size="10.75" text-anchor="middle" font-weight="normal" fill="#111" >дальний свет</text>
<text x="366.2" y="1707.5" font-size="10.75" text-anchor="middle" font-weight="normal" fill="#111" >Переключатель</text>
<text x="366.2" y="1720.5" font-size="10.75" text-anchor="middle" font-weight="normal" fill="#111" >поворотники</text>
<text x="389.0" y="1776.7" font-size="10.75" text-anchor="middle" font-weight="normal" fill="#111" >Гудок</text>
<text x="732.6" y="626.6" font-size="10.75" text-anchor="middle" font-weight="normal" fill="#111" >Левый</text>
<text x="732.6" y="639.6" font-size="10.75" text-anchor="middle" font-weight="normal" fill="#111" >поворотник</text>
<text x="806.5" y="594.0" font-size="10.75" text-anchor="middle" font-weight="normal" fill="#111" >Ближний/</text>
<text x="806.5" y="607.0" font-size="10.75" text-anchor="middle" font-weight="normal" fill="#111" >дальний свет</text>
<text x="889.7" y="632.9" font-size="10.75" text-anchor="middle" font-weight="normal" fill="#111" >Правый</text>
<text x="889.7" y="645.9" font-size="10.75" text-anchor="middle" font-weight="normal" fill="#111" >поворотник</text>
<text x="1014.6" y="623.6" font-size="10.75" text-anchor="middle" font-weight="normal" fill="#111" >Замок зажигания</text>
<text x="1272.2" y="686.6" font-size="10.75" text-anchor="middle" font-weight="normal" fill="#111" >Катушка</text>
<text x="1272.2" y="699.1" font-size="10.75" text-anchor="middle" font-weight="normal" fill="#111" >зажигания</text>
<text x="1228.3" y="762.3" font-size="10.75" text-anchor="start" font-weight="normal" fill="#444" >Свеча</text>
<text x="1446.9" y="680.3" font-size="10.75" text-anchor="middle" font-weight="normal" fill="#111" >Сигнализация</text>
<text x="1618.8" y="690.3" font-size="10.75" text-anchor="middle" font-weight="normal" fill="#111" >CDI</text>
<text x="1776.7" y="615.6" font-size="10.75" text-anchor="middle" font-weight="normal" fill="#111" >Генератор</text>
<text x="1905.0" y="634.7" font-size="10.75" text-anchor="middle" font-weight="normal" fill="#111" >Электромагнитный</text>
<text x="1905.0" y="647.2" font-size="10.75" text-anchor="middle" font-weight="normal" fill="#111" >клапан</text>
<text x="2044.7" y="634.7" font-size="10.75" text-anchor="middle" font-weight="normal" fill="#111" >Регулятор</text>
<text x="2044.7" y="647.7" font-size="10.75" text-anchor="middle" font-weight="normal" fill="#111" >напряжения</text>
<text x="2223.6" y="805.7" font-size="10.75" text-anchor="middle" font-weight="normal" fill="#111" >Аккумулятор</text>
<text x="2348.5" y="788.6" font-size="10.75" text-anchor="middle" font-weight="normal" fill="#111" >Реле</text>
<text x="2348.5" y="801.2" font-size="10.75" text-anchor="middle" font-weight="normal" fill="#111" >стартера</text>
<text x="2249.2" y="1749.4" font-size="10.75" text-anchor="middle" font-weight="normal" fill="#111" >Стартер</text>
<text x="2364.1" y="1754.5" font-size="10.75" text-anchor="middle" font-weight="normal" fill="#111" >Датчик масла</text>
<text x="2655.6" y="1132.6" font-size="10.75" text-anchor="middle" font-weight="normal" fill="#111" >Габарит/Стоп</text>
<text x="2655.6" y="1145.2" font-size="10.75" text-anchor="middle" font-weight="normal" fill="#111" >сигнал</text>
<text x="2660.6" y="1307.6" font-size="10.75" text-anchor="middle" font-weight="normal" fill="#111" >Левый</text>
<text x="2660.6" y="1320.1" font-size="10.75" text-anchor="middle" font-weight="normal" fill="#111" >поворотник</text>
<text x="2669.9" y="1697.6" font-size="10.75" text-anchor="middle" font-weight="normal" fill="#111" >Датчик уровня</text>
<text x="2669.9" y="1710.1" font-size="10.75" text-anchor="middle" font-weight="normal" fill="#111" >топлива</text>
<text x="101.6" y="1201.3" font-size="7.20" text-anchor="start" font-weight="normal" fill="#222" textLength="95.3" lengthAdjust="spacingAndGlyphs">1 - серый - индикатор масла</text>
<text x="101.6" y="1210.9" font-size="7.20" text-anchor="start" font-weight="normal" fill="#222" textLength="121.3" lengthAdjust="spacingAndGlyphs">2 - бело-синий - индикатор топлива</text>
<text x="101.6" y="1220.4" font-size="7.20" text-anchor="start" font-weight="normal" fill="#222" textLength="102.2" lengthAdjust="spacingAndGlyphs">3 - черный - масса "-" (корпус)</text>
<text x="101.6" y="1230.0" font-size="7.20" text-anchor="start" font-weight="normal" fill="#222" textLength="156.9" lengthAdjust="spacingAndGlyphs">4 - зелено-белый- указатель поворота в право</text>
<text x="101.6" y="1239.6" font-size="7.20" text-anchor="start" font-weight="normal" fill="#222" textLength="163.7" lengthAdjust="spacingAndGlyphs">5 - зеленый-черный - указатель поворота в лево</text>
<text x="101.6" y="1249.4" font-size="7.20" text-anchor="start" font-weight="normal" fill="#222" textLength="107.7" lengthAdjust="spacingAndGlyphs">6 - красный - питающий "+" 12V</text>
<text x="101.6" y="1259.0" font-size="7.20" text-anchor="start" font-weight="normal" fill="#222" textLength="76.7" lengthAdjust="spacingAndGlyphs">7 - желтый - подсветка</text>
<text x="101.6" y="1268.3" font-size="7.20" text-anchor="start" font-weight="normal" fill="#222" textLength="89.8" lengthAdjust="spacingAndGlyphs">8 - бело-красный- дисплей</text>
<text x="101.6" y="1278.0" font-size="7.20" text-anchor="start" font-weight="normal" fill="#222" textLength="133.2" lengthAdjust="spacingAndGlyphs">9 - синий - индикатор включении фары</text>
<text x="101.6" y="1287.8" font-size="7.20" text-anchor="start" font-weight="normal" fill="#222" textLength="92.5" lengthAdjust="spacingAndGlyphs">10-бело-черный - тахометр</text>
<text x="101.6" y="1297.4" font-size="7.20" text-anchor="start" font-weight="normal" fill="#222" textLength="138.3" lengthAdjust="spacingAndGlyphs">11-черный - "-" индикатор сигнализации</text>
<text x="101.6" y="1307.0" font-size="7.20" text-anchor="start" font-weight="normal" fill="#222" textLength="166.5" lengthAdjust="spacingAndGlyphs">12- черно - желтый -"+" индикатор сигнализации</text>
</svg>
</body></html>
